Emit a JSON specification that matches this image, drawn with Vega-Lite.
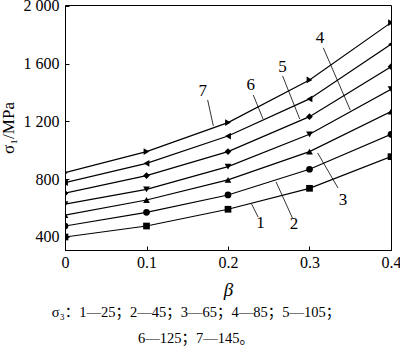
{
  "$schema": "https://vega.github.io/schema/vega-lite/v6.json",
  "width": 326,
  "height": 245,
  "autosize": "none",
  "padding": {"left": 65, "top": 5, "right": 9, "bottom": 101},
  "background": "white",
  "config": {
    "view": {"stroke": "black", "strokeWidth": 1},
    "font": "Liberation Serif",
    "axis": {
      "grid": false,
      "domainColor": "black",
      "tickColor": "black",
      "labelColor": "black",
      "titleColor": "black",
      "labelFont": "Liberation Serif",
      "titleFont": "Liberation Serif",
      "labelFontSize": 16,
      "titleFontSize": 17,
      "titleFontWeight": "normal",
      "labelFlush": false,
      "labelOverlap": false
    }
  },
  "title": {
    "text": ["σ₃：1—25；2—45；3—65；4—85；5—105；", "6—125；7—145。"],
    "orient": "bottom",
    "anchor": "middle",
    "font": "Liberation Serif, Noto Sans CJK SC",
    "fontSize": 14.5,
    "fontWeight": "normal",
    "color": "black",
    "lineHeight": 26,
    "dx": -32,
    "offset": 7
  },
  "layer": [
    {
      "data": {"values": [
        {"s": "1", "beta": 0, "sigma": 400}, {"s": "1", "beta": 0.1, "sigma": 476}, {"s": "1", "beta": 0.2, "sigma": 592}, {"s": "1", "beta": 0.3, "sigma": 737}, {"s": "1", "beta": 0.4, "sigma": 956},
        {"s": "2", "beta": 0, "sigma": 476}, {"s": "2", "beta": 0.1, "sigma": 571}, {"s": "2", "beta": 0.2, "sigma": 691}, {"s": "2", "beta": 0.3, "sigma": 869}, {"s": "2", "beta": 0.4, "sigma": 1111},
        {"s": "3", "beta": 0, "sigma": 552}, {"s": "3", "beta": 0.1, "sigma": 656}, {"s": "3", "beta": 0.2, "sigma": 795}, {"s": "3", "beta": 0.3, "sigma": 991}, {"s": "3", "beta": 0.4, "sigma": 1268},
        {"s": "4", "beta": 0, "sigma": 628}, {"s": "4", "beta": 0.1, "sigma": 730}, {"s": "4", "beta": 0.2, "sigma": 887}, {"s": "4", "beta": 0.3, "sigma": 1111}, {"s": "4", "beta": 0.4, "sigma": 1423},
        {"s": "5", "beta": 0, "sigma": 703}, {"s": "5", "beta": 0.1, "sigma": 825}, {"s": "5", "beta": 0.2, "sigma": 991}, {"s": "5", "beta": 0.3, "sigma": 1233}, {"s": "5", "beta": 0.4, "sigma": 1579},
        {"s": "6", "beta": 0, "sigma": 776}, {"s": "6", "beta": 0.1, "sigma": 910}, {"s": "6", "beta": 0.2, "sigma": 1099}, {"s": "6", "beta": 0.3, "sigma": 1356}, {"s": "6", "beta": 0.4, "sigma": 1734},
        {"s": "7", "beta": 0, "sigma": 845}, {"s": "7", "beta": 0.1, "sigma": 991}, {"s": "7", "beta": 0.2, "sigma": 1192}, {"s": "7", "beta": 0.3, "sigma": 1487}, {"s": "7", "beta": 0.4, "sigma": 1884}
      ]},
      "layer": [
        {
          "mark": {"type": "line", "color": "black", "strokeWidth": 1.2, "clip": true},
          "encoding": {
            "x": {"field": "beta", "type": "quantitative", "scale": {"domain": [0, 0.4], "nice": false},
              "axis": {"values": [0, 0.1, 0.2, 0.3, 0.4], "format": "~g", "title": "β", "titleFontStyle": "italic", "titleFontSize": 19, "tickSize": -4, "labelPadding": 8, "titlePadding": 10}},
            "y": {"field": "sigma", "type": "quantitative", "scale": {"domain": [310, 2006], "nice": false, "zero": false},
              "axis": {"values": [400, 800, 1200, 1600, 2000], "labelExpr": "datum.value >= 1000 ? floor(datum.value/1000) + ' ' + format(datum.value % 1000, '03d') : datum.label", "title": "σ₁/MPa", "tickSize": -4, "labelPadding": 10, "titlePadding": 6}},
            "detail": {"field": "s"}
          }
        },
        {
          "mark": {"type": "point", "filled": true, "color": "black", "opacity": 1, "size": 45, "clip": true},
          "encoding": {
            "x": {"field": "beta", "type": "quantitative"},
            "y": {"field": "sigma", "type": "quantitative"},
            "shape": {"field": "s", "type": "nominal", "legend": null,
              "scale": {"domain": ["1", "2", "3", "4", "5", "6", "7"], "range": ["square", "circle", "triangle-up", "triangle-down", "diamond", "triangle-left", "triangle-right"]}}
          }
        }
      ]
    },
    {
      "data": {"values": [
        {"lab": "1", "x1": 0.229, "y1": 628, "x2": 0.237, "y2": 538, "tx": 0.240, "ty": 497},
        {"lab": "2", "x1": 0.259, "y1": 781, "x2": 0.279, "y2": 532, "tx": 0.281, "ty": 490},
        {"lab": "3", "x1": 0.310, "y1": 982, "x2": 0.335, "y2": 739, "tx": 0.341, "ty": 656},
        {"lab": "4", "x1": 0.317, "y1": 1709, "x2": 0.350, "y2": 1279, "tx": 0.313, "ty": 1778},
        {"lab": "5", "x1": 0.267, "y1": 1515, "x2": 0.288, "y2": 1217, "tx": 0.267, "ty": 1577},
        {"lab": "6", "x1": 0.231, "y1": 1383, "x2": 0.243, "y2": 1217, "tx": 0.228, "ty": 1453},
        {"lab": "7", "x1": 0.175, "y1": 1349, "x2": 0.182, "y2": 1169, "tx": 0.169, "ty": 1411}
      ]},
      "layer": [
        {
          "mark": {"type": "rule", "color": "black", "strokeWidth": 0.8},
          "encoding": {
            "x": {"field": "x1", "type": "quantitative"},
            "y": {"field": "y1", "type": "quantitative"},
            "x2": {"field": "x2"},
            "y2": {"field": "y2"}
          }
        },
        {
          "mark": {"type": "text", "font": "Liberation Serif", "fontSize": 17, "color": "black", "align": "center", "baseline": "middle"},
          "encoding": {
            "x": {"field": "tx", "type": "quantitative"},
            "y": {"field": "ty", "type": "quantitative"},
            "text": {"field": "lab"}
          }
        }
      ]
    }
  ]
}
